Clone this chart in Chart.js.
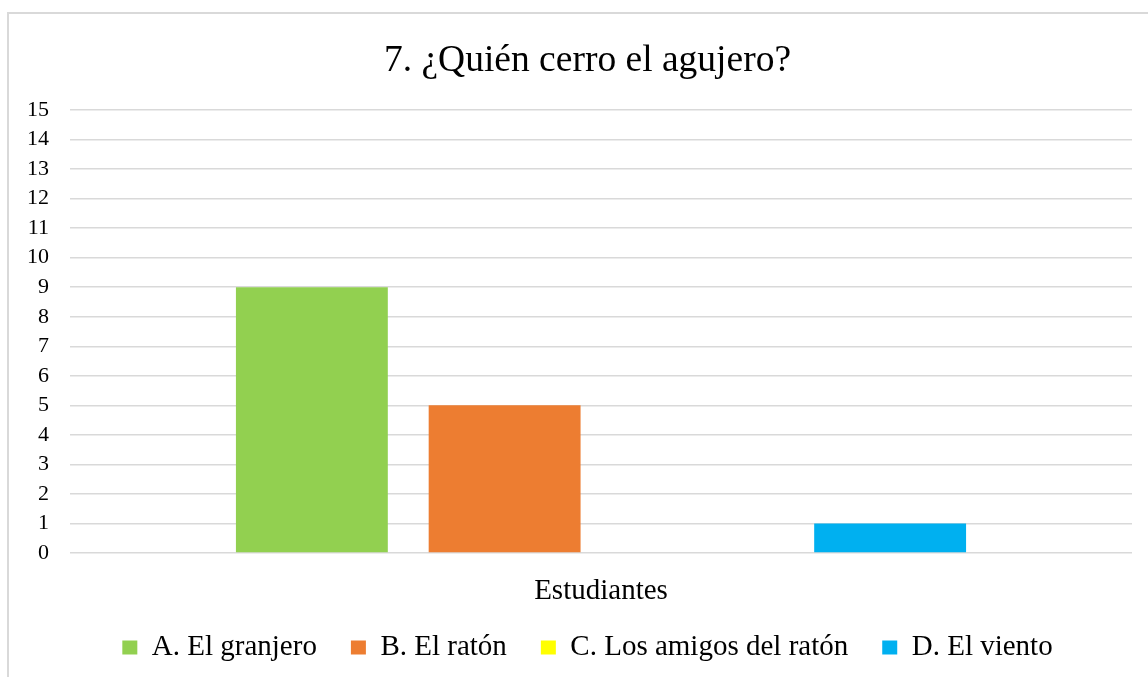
<!DOCTYPE html>
<html>
<head>
<meta charset="utf-8">
<script src="https://cdn.jsdelivr.net/npm/chart.js@4/dist/chart.umd.min.js"></script>
<style>
  html, body { margin: 0; padding: 0; background: #fff; overflow: hidden; }
  #wrap { position: absolute; left: 0; top: 0; width: 1148px; height: 677px; }
</style>
</head>
<body>
<div id="wrap"><canvas id="chart" width="1148" height="677"></canvas></div>
<script>
// datos del gráfico
const chartTitle = '7. ¿Quién cerro el agujero?';
const categories = ['Estudiantes'];
const seriesNames = ['A. El granjero', 'B. El ratón', 'C. Los amigos del ratón', 'D. El viento'];
const seriesValues = [[9], [5], [0], [1]];
const seriesColors = ['#92d050', '#ed7d31', '#ffff00', '#00b0f0'];
const yTicks = [0, 15, 1]; // min, max, paso

const serif = "'Liberation Serif', 'DejaVu Serif', serif";

// borde gris del marco (solo izquierda y arriba son visibles)
const frameBorder = {
    id: 'frameBorder',
    beforeDraw(chart) {
        const ctx = chart.ctx;
        ctx.save();
        ctx.strokeStyle = '#d9d9d9';
        ctx.lineWidth = 2;
        ctx.strokeRect(8, 13, 1160, 700);
        ctx.restore();
    }
};

const datasets = seriesNames.map((name, i) => ({
    label: name,
    data: seriesValues[i],
    backgroundColor: seriesColors[i],
    borderWidth: 0,
    categoryPercentage: 0.726,
    barPercentage: 0.788
}));

new Chart(document.getElementById('chart').getContext('2d'), {
    type: 'bar',
    data: { labels: categories, datasets: datasets },
    plugins: [frameBorder],
    options: {
        responsive: false,
        animation: false,
        layout: { padding: { left: 43, right: 16, top: 15, bottom: 5 } },
        plugins: {
            title: {
                display: true,
                text: chartTitle,
                color: '#000',
                font: { family: serif, size: 37.5, weight: 'normal' },
                padding: { top: 24, bottom: 26 }
            },
            legend: {
                position: 'bottom',
                labels: {
                    color: '#000',
                    font: { family: serif, size: 29 },
                    boxWidth: 15,
                    boxHeight: 14,
                    padding: 34
                }
            },
            tooltip: { enabled: false }
        },
        scales: {
            x: {
                grid: { display: false },
                border: { display: false },
                ticks: {
                    color: '#000',
                    font: { family: serif, size: 29 },
                    padding: 13
                },
                afterFit: (scale) => { scale.height = 46; }
            },
            y: {
                min: yTicks[0],
                max: yTicks[1],
                grid: { color: '#d9d9d9', lineWidth: 1.5, drawTicks: false },
                border: { display: false },
                ticks: {
                    stepSize: yTicks[2],
                    color: '#000',
                    font: { family: serif, size: 22 },
                    mirror: true,
                    crossAlign: 'far',
                    padding: -43
                },
                afterFit: (scale) => { scale.width = 27; }
            }
        }
    }
});
</script>
</body>
</html>
